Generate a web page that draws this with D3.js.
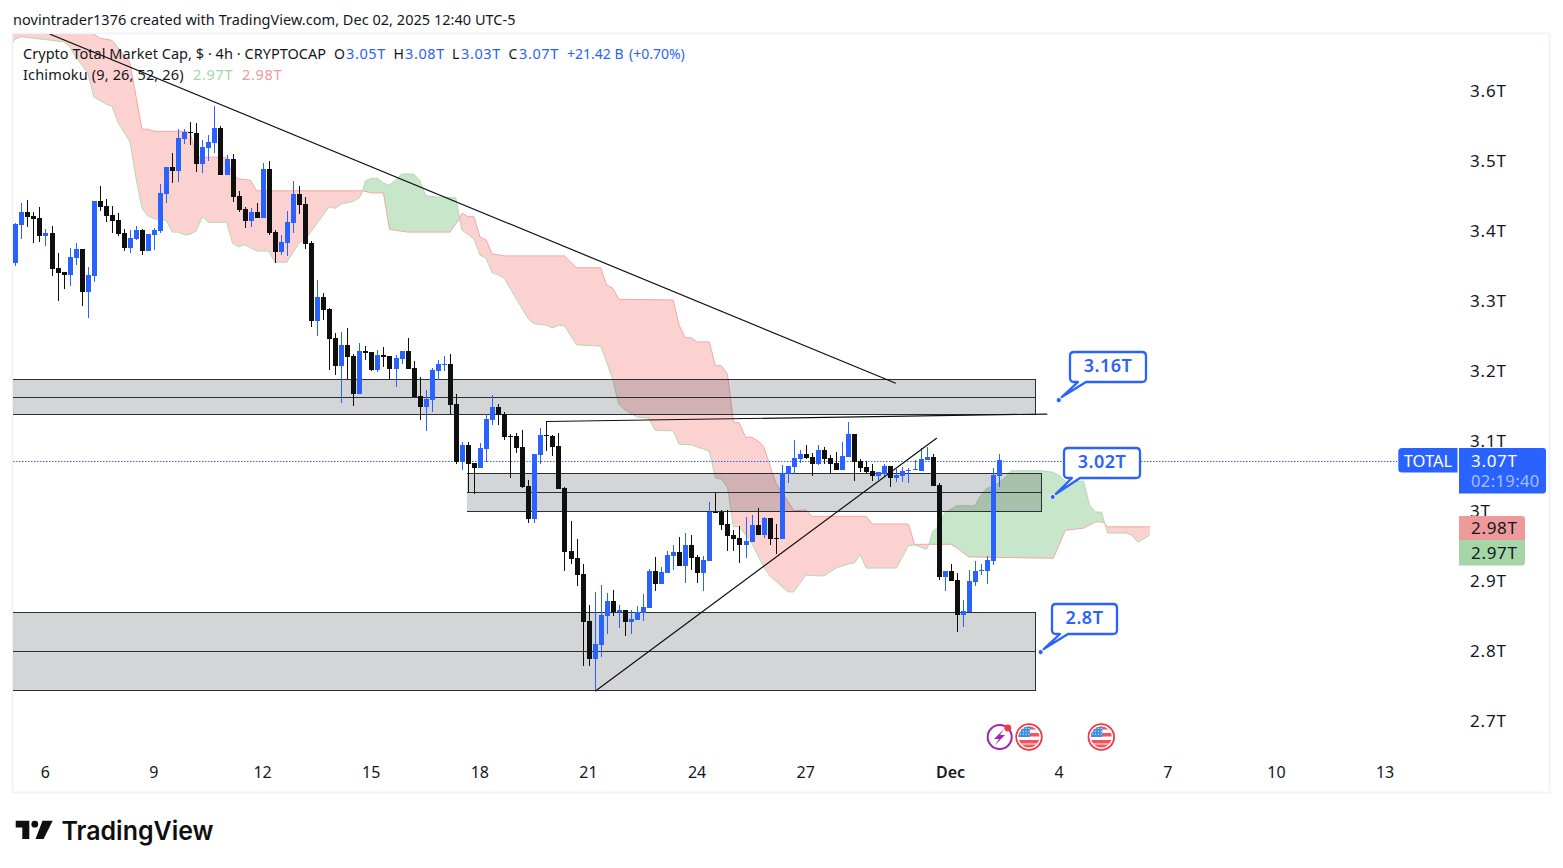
<!DOCTYPE html>
<html><head><meta charset="utf-8"><title>TOTAL</title>
<script src="https://cdn.jsdelivr.net/npm/d3@7"></script>
<style>
html,body{margin:0;padding:0;background:#fff;overflow:hidden}
svg{display:block}
text{font-family:"Noto Sans",sans-serif}
</style></head><body><svg id="c" width="1563" height="868"></svg>
<script>
// ---------- DATA ----------
const opens=[3.353,3.407,3.426,3.420,3.417,3.391,3.396,3.346,3.340,3.336,
3.360,3.373,3.311,3.334,3.441,3.434,3.421,3.414,3.396,3.374,
3.387,3.400,3.370,3.393,3.399,3.451,3.490,3.484,3.530,3.540,
3.539,3.494,3.517,3.524,3.546,3.479,3.501,3.449,3.430,3.413,
3.426,3.417,3.487,3.397,3.369,3.381,3.410,3.451,3.437,3.381,
3.270,3.304,3.287,3.246,3.206,3.236,3.220,3.166,3.227,3.226,
3.200,3.221,3.220,3.201,3.216,3.227,3.203,3.163,3.147,3.157,
3.199,3.207,3.209,3.151,3.069,3.093,3.067,3.060,3.087,3.129,
3.147,3.137,3.106,3.106,3.090,3.034,2.987,3.079,3.107,3.106,
3.091,3.031,2.941,2.931,2.909,2.841,2.787,2.807,2.849,2.870,
2.854,2.857,2.840,2.843,2.853,2.860,2.913,2.894,2.910,2.934,
2.940,2.920,2.950,2.933,2.910,2.927,2.997,2.997,2.980,2.964,
2.960,2.950,2.954,2.979,2.964,2.989,2.960,2.959,3.051,3.061,
3.073,3.080,3.076,3.066,3.086,3.074,3.067,3.057,3.076,3.109,
3.070,3.061,3.056,3.049,3.051,3.063,3.046,3.049,3.056,3.057,
3.056,3.071,3.076,3.036,2.904,2.913,2.900,2.850,2.854,2.897,
2.913,2.913,2.927,3.049];
const highs=[3.410,3.439,3.443,3.426,3.433,3.401,3.406,3.367,3.340,3.374,
3.381,3.373,3.347,3.441,3.463,3.444,3.434,3.424,3.401,3.400,
3.406,3.401,3.394,3.403,3.466,3.490,3.510,3.544,3.544,3.554,
3.553,3.529,3.536,3.577,3.549,3.507,3.509,3.456,3.433,3.431,
3.439,3.496,3.499,3.400,3.393,3.427,3.470,3.463,3.447,3.384,
3.329,3.310,3.289,3.253,3.254,3.260,3.223,3.239,3.234,3.226,
3.229,3.233,3.220,3.221,3.227,3.246,3.213,3.190,3.171,3.203,
3.214,3.220,3.223,3.166,3.097,3.097,3.067,3.096,3.137,3.164,
3.151,3.140,3.109,3.110,3.114,3.043,3.080,3.117,3.127,3.107,
3.110,3.033,2.984,2.959,2.923,2.864,2.883,2.893,2.881,2.886,
2.864,2.857,2.857,2.863,2.880,2.916,2.933,2.919,2.941,2.950,
2.961,2.967,2.964,2.936,2.934,3.011,3.024,3.000,3.000,2.971,
2.977,2.990,2.993,3.003,2.990,2.989,2.980,3.064,3.063,3.100,
3.086,3.093,3.081,3.093,3.090,3.079,3.083,3.097,3.126,3.109,
3.073,3.070,3.066,3.054,3.066,3.063,3.059,3.061,3.060,3.071,
3.089,3.090,3.080,3.039,2.913,2.923,2.910,2.871,2.914,2.927,
2.923,2.934,3.060,3.080];
const lows=[3.349,3.387,3.404,3.381,3.383,3.377,3.334,3.299,3.316,3.320,
3.350,3.291,3.274,3.326,3.427,3.411,3.396,3.391,3.370,3.367,
3.386,3.364,3.370,3.371,3.396,3.439,3.467,3.469,3.523,3.521,
3.483,3.481,3.499,3.510,3.479,3.479,3.440,3.426,3.403,3.404,
3.417,3.417,3.393,3.353,3.364,3.363,3.396,3.423,3.373,3.261,
3.249,3.271,3.200,3.193,3.153,3.187,3.149,3.166,3.214,3.199,
3.197,3.204,3.187,3.176,3.209,3.201,3.161,3.129,3.113,3.140,
3.186,3.199,3.137,3.066,3.057,3.026,3.023,3.060,3.069,3.121,
3.121,3.100,3.046,3.081,3.031,2.981,2.981,3.066,3.084,3.077,
3.030,2.913,2.923,2.891,2.777,2.777,2.741,2.790,2.823,2.849,
2.831,2.820,2.823,2.843,2.841,2.860,2.884,2.894,2.910,2.914,
2.920,2.896,2.914,2.896,2.884,2.927,2.996,2.971,2.941,2.941,
2.924,2.931,2.954,2.964,2.960,2.950,2.937,2.959,3.039,3.051,
3.067,3.073,3.049,3.064,3.066,3.051,3.057,3.057,3.076,3.041,
3.054,3.053,3.041,3.043,3.047,3.033,3.040,3.040,3.039,3.057,
3.056,3.071,3.034,2.900,2.884,2.899,2.826,2.833,2.854,2.891,
2.907,2.894,2.921,3.033];
const closes=[3.409,3.426,3.419,3.416,3.391,3.396,3.344,3.339,3.336,3.361,
3.373,3.311,3.336,3.441,3.433,3.420,3.413,3.394,3.374,3.389,
3.400,3.370,3.394,3.400,3.453,3.490,3.484,3.531,3.540,3.539,
3.494,3.519,3.526,3.546,3.479,3.501,3.447,3.429,3.413,3.426,
3.417,3.487,3.396,3.369,3.383,3.411,3.451,3.436,3.380,3.270,
3.304,3.286,3.244,3.206,3.236,3.219,3.166,3.227,3.224,3.200,
3.221,3.219,3.201,3.217,3.227,3.201,3.161,3.147,3.159,3.200,
3.209,3.209,3.150,3.069,3.093,3.066,3.060,3.089,3.130,3.147,
3.136,3.104,3.104,3.089,3.033,2.987,3.080,3.107,3.106,3.090,
3.030,2.940,2.930,2.907,2.840,2.787,2.809,2.850,2.870,2.854,
2.857,2.840,2.844,2.854,2.861,2.913,2.894,2.911,2.936,2.940,
2.920,2.950,2.931,2.910,2.929,2.997,2.996,2.979,2.963,2.959,
2.950,2.956,2.979,2.964,2.989,2.959,2.959,3.053,3.063,3.074,
3.080,3.074,3.066,3.086,3.073,3.066,3.057,3.077,3.109,3.069,
3.060,3.054,3.049,3.054,3.063,3.046,3.050,3.056,3.057,3.059,
3.073,3.076,3.034,2.904,2.913,2.899,2.850,2.856,2.899,2.913,
2.914,2.929,3.050,3.071];

// Ichimoku leading spans, read at their kinks (bar number, price in T)
const spanABars=[-1,0,1,8,9,10,12,13,15,16,17,19,20,21,22,23,25,26,27,28,29,30,31,32,35,36,37,38,40,42,43,45,47,48,52,53,54,55,56,57,57.6,58,59,60,61,62,63,64,66,67,68,70,73,73.6,74,76,77,78,79,80,81,85,86,88,89,90,91,93,97,98,99,100,101,103,105,106,109,110,112,114,115,116,117,118,119,120,122,124,125,128,129,131,133,134,136,138,139,140,141,146,148,149,151,151.4,152,153,154,156,159,160,161,162,164,165,170,172,173,174,177,178,179,180,180.5,181,184,185,186,188];
const spanA=[3.663,3.673,3.676,3.669,3.662,3.647,3.625,3.590,3.580,3.577,3.554,3.526,3.474,3.431,3.420,3.416,3.414,3.397,3.397,3.393,3.394,3.399,3.419,3.411,3.411,3.381,3.376,3.379,3.370,3.370,3.354,3.354,3.381,3.386,3.433,3.431,3.437,3.439,3.441,3.446,3.456,3.470,3.474,3.474,3.467,3.464,3.471,3.480,3.480,3.471,3.449,3.447,3.446,3.416,3.400,3.387,3.364,3.360,3.339,3.336,3.331,3.273,3.266,3.264,3.260,3.264,3.263,3.236,3.234,3.211,3.186,3.151,3.143,3.133,3.131,3.114,3.113,3.094,3.093,3.087,3.084,3.046,3.044,3.033,2.976,2.976,2.953,2.919,2.906,2.883,2.883,2.907,2.906,2.906,2.917,2.923,2.924,2.936,2.917,2.917,2.949,2.950,2.944,2.951,2.969,2.977,2.996,3.006,3.006,3.021,3.031,3.033,3.046,3.056,3.056,3.054,3.049,3.041,3.041,3.007,2.997,2.997,2.981,2.967,2.967,2.964,2.954,2.964];
const spanBBars=[-1,12,13,14,16,19,20,21,22,23,28,29,30,34,35,36,37,39,40,57,57.6,59,61,62,65,72,73.6,74,75,76,77,78,79,81,91,93,97,98,99,100,109,110,111,112,113,115,116,117,118,119,120,121,122,123,124,126,129,131,132,141,142,148,149,151.4,155,156,158,172,174,177,179,180,180.5,181,188];
const spanB=[3.700,3.686,3.680,3.674,3.671,3.639,3.591,3.544,3.544,3.541,3.541,3.539,3.504,3.504,3.503,3.479,3.473,3.471,3.456,3.456,3.456,3.453,3.453,3.401,3.397,3.397,3.416,3.424,3.419,3.419,3.390,3.386,3.366,3.363,3.363,3.346,3.346,3.321,3.317,3.301,3.300,3.264,3.246,3.246,3.240,3.240,3.206,3.206,3.194,3.126,3.124,3.104,3.104,3.099,3.091,3.039,2.999,3.000,2.991,2.991,2.980,2.980,2.951,2.951,2.951,2.946,2.933,2.931,2.971,2.974,2.983,2.983,2.981,2.976,2.976];
// spans cross at these bars; the cloud colour flips there
const cloudEdges=[-1,57.6,73.6,151.4,180.5,188];
const cloudBullish=[false,true,false,true,false];

// horizontal zones: top, mid and bottom price, first and last bar (-1 = off the left edge)
const zoneTops=[3.1867,3.0524,2.8539];
const zoneMids=[3.1610,3.0253,2.7981];
const zoneBottoms=[3.1367,2.9981,2.7429];
const zoneFrom=[-1,74.8,-1];
const zoneTo=[168.9,169.9,168.9];

// trend lines: from (bar, price) to (bar, price)
const trendFromBar=[5.6,88,96];
const trendFromPrice=[3.680,3.1264,2.741];
const trendToBar=[145.9,171,152.7];
const trendToPrice=[3.181,3.1371,3.103];

// callouts
const calloutLabels=["3.16T","3.02T","2.8T"];
const calloutBars=[172.9,171.9,169.9];
const calloutPrices=[3.157,3.0186,2.797];

const priceTicks=[3.6,3.5,3.4,3.3,3.2,3.1,3.0,2.9,2.8,2.7];
const priceTickLabels=["3.6T","3.5T","3.4T","3.3T","3.2T","3.1T","3T","2.9T","2.8T","2.7T"];
const timeTickBars=[5,23,41,59,77,95,113,131,155,173,191,209,227];
const timeTickLabels=["6","9","12","15","18","21","24","27","Dec","4","7","10","13"];

const lastPrice=3.07, spanTagB="2.98T", spanTagA="2.97T";
const symbolName="TOTAL", countdown="02:19:40";
const legendTitle="Crypto Total Market Cap, $ · 4h · CRYPTOCAP";
const legendLetters=["O","H","L","C"];
const legendValues=["3.05T","3.08T","3.03T","3.07T"];
const legendChange=["+21.42 B","(+0.70%)"];
const headerText="novintrader1376 created with TradingView.com, Dec 02, 2025 12:40 UTC-5";

// ---------- SCALES ----------
const svg=d3.select("#c");
const x=d3.scaleLinear().domain([0,163]).range([15.3,999]);
const y=d3.scaleLinear().domain([2.7,3.6]).range([720,90]);
const BLUE="#2962ff",BLACK="#0f0f0f",DARK="#131722",INK="#2a2e39";
const defs=svg.append("defs");
defs.append("clipPath").attr("id","plot").append("rect").attr("x",13).attr("y",34).attr("width",1384).attr("height",758);

// frame
svg.append("rect").attr("x",12.5).attr("y",33.5).attr("width",1537).attr("height",759).attr("fill","none").attr("stroke","#f0f3fa").attr("stroke-width",2);

const plot=svg.append("g").attr("clip-path","url(#plot)");

// ---------- CLOUD ----------
const A=spanABars.map((b,i)=>[b,spanA[i]]), B=spanBBars.map((b,i)=>[b,spanB[i]]);
const ln=d3.line().x(d=>x(d[0])).y(d=>y(d[1]));
const cloud=plot.append("g");
cloudBullish.forEach((bull,i)=>{
  const lo=cloudEdges[i],hi=cloudEdges[i+1];
  const a=A.filter(d=>d[0]>=lo&&d[0]<=hi), b=B.filter(d=>d[0]>=lo&&d[0]<=hi).reverse();
  cloud.append("path").attr("d",ln(a.concat(b))+"Z").attr("fill",bull?"#c8e6c9":"#fcd2d0");
});
cloud.append("path").attr("d",ln(B)).attr("fill","none").attr("stroke","#f5a6a6").attr("stroke-width",1);
cloud.append("path").attr("d",ln(A)).attr("fill","none").attr("stroke","#b0dab2").attr("stroke-width",1);

// ---------- ZONES ----------
const zones=plot.append("g");
zoneTops.forEach((t,i)=>{
  const x0=Math.round(x(zoneFrom[i]))+(zoneFrom[i]<0?-20:0), x1=Math.round(x(zoneTo[i]));
  const yt=Math.round(y(t)),ym=Math.round(y(zoneMids[i])),yb=Math.round(y(zoneBottoms[i]));
  zones.append("rect").attr("x",x0).attr("y",yt).attr("width",x1-x0).attr("height",yb-yt).attr("fill","rgba(42,46,57,.2)");
  [yt,ym,yb].forEach(v=>zones.append("line").attr("x1",x0).attr("x2",x1).attr("y1",v+.5).attr("y2",v+.5).attr("stroke",INK));
  zones.append("line").attr("x1",x1+.5).attr("x2",x1+.5).attr("y1",yt).attr("y2",yb+1).attr("stroke",INK);
});

// last price line
plot.append("line").attr("x1",13).attr("x2",1398).attr("y1",Math.round(y(lastPrice))+.5).attr("y2",Math.round(y(lastPrice))+.5)
  .attr("stroke",BLUE).attr("stroke-dasharray","1.5 1.5");

// ---------- CANDLES ----------
const candles=opens.map((o,i)=>({i,o,h:highs[i],l:lows[i],c:closes[i]}));
const cg=plot.append("g").selectAll("g").data(candles).join("g");
const col=d=>d.c>=d.o?BLUE:BLACK;
cg.append("rect").attr("x",d=>Math.round(x(d.i))).attr("width",1)
  .attr("y",d=>Math.round(y(d.h))).attr("height",d=>Math.max(1,Math.round(y(d.l))-Math.round(y(d.h))))
  .attr("fill",col);
cg.append("rect").attr("x",d=>Math.round(x(d.i))-2).attr("width",5)
  .attr("y",d=>Math.round(y(Math.max(d.o,d.c))))
  .attr("height",d=>Math.max(1,Math.round(y(Math.min(d.o,d.c)))-Math.round(y(Math.max(d.o,d.c)))))
  .attr("fill",col);

// ---------- TREND LINES ----------
plot.append("g").selectAll("line").data(trendFromBar).join("line")
  .attr("x1",(d,i)=>x(d)+.5).attr("y1",(d,i)=>y(trendFromPrice[i]))
  .attr("x2",(d,i)=>x(trendToBar[i])).attr("y2",(d,i)=>y(trendToPrice[i]))
  .attr("stroke",BLACK).attr("stroke-width",1.2);

// ---------- CALLOUTS ----------
calloutLabels.forEach((lab,i)=>{
  const ax=x(calloutBars[i]),ay=y(calloutPrices[i]);
  const g=svg.append("g");
  const t=g.append("text").attr("x",0).attr("y",0).attr("font-size",18).attr("font-weight",600).attr("fill",BLUE).attr("letter-spacing",.5).text(lab);
  const w=Math.round(t.node().getComputedTextLength())+27,h=30;
  const bx=Math.round(ax+11),by=Math.round(ay-48.5),r=4,b=by+h;
  t.attr("x",bx+w/2).attr("y",by+20).attr("text-anchor","middle");
  g.insert("path","text").attr("d",`M${bx+r},${by}H${bx+w-r}Q${bx+w},${by} ${bx+w},${by+r}V${b-r}Q${bx+w},${b} ${bx+w-r},${b}H${bx+16}L${ax+3},${ay-3}L${bx+8},${b}H${bx+r}Q${bx},${b} ${bx},${b-r}V${by+r}Q${bx},${by} ${bx+r},${by}Z`)
   .attr("fill","#fff").attr("stroke",BLUE).attr("stroke-width",2.3).attr("stroke-linejoin","round");
  g.append("circle").attr("cx",ax).attr("cy",ay).attr("r",2.6).attr("fill",BLUE).attr("stroke","#fff").attr("stroke-width",1);
});

// ---------- AXES ----------
const yAxis=d3.axisRight(y).tickValues(priceTicks).tickSize(0).tickFormat((d,i)=>priceTickLabels[i]);
const yg=svg.append("g").attr("transform","translate(1470,1)").call(yAxis);
yg.select(".domain").remove();
yg.selectAll("text").attr("x",0).attr("dy","0.35em").attr("text-anchor","start").attr("font-size",17).attr("letter-spacing",.8).attr("font-family",'"Noto Sans",sans-serif').attr("fill",DARK);

const xAxis=d3.axisBottom(x).tickValues(timeTickBars).tickSize(0).tickFormat((d,i)=>timeTickLabels[i]);
const xg=svg.append("g").attr("transform","translate(-0.7,772.5)").call(xAxis);
xg.select(".domain").remove();
xg.selectAll("text").attr("y",0).attr("dy","0.35em").attr("font-size",16).attr("font-family",'"Noto Sans",sans-serif').attr("fill",DARK)
  .attr("font-weight",(d,i)=>timeTickLabels[i]==="Dec"?600:400);

// ---------- PRICE TAGS ----------
const tagX=1459;
const tags=svg.append("g");
tags.append("path").attr("d","M1402,448H1457.5V472.5H1402Q1398.3,472.5 1398.3,469V451.5Q1398.3,448 1402,448Z").attr("fill",BLUE);
tags.append("text").attr("x",1428).attr("y",466.5).attr("text-anchor","middle").attr("font-size",16.5).attr("fill","#fff").text(symbolName);
tags.append("path").attr("d",`M${tagX},448H1543Q1546,448 1546,451V490Q1546,493.5 1543,493.5H${tagX}Z`).attr("fill",BLUE);
tags.append("text").attr("x",1471).attr("y",466.5).attr("font-size",17).attr("letter-spacing",.7).attr("fill","#fff").text(d3.format(".2f")(lastPrice)+"T");
tags.append("text").attr("x",1471).attr("y",487).attr("font-size",16.5).attr("letter-spacing",.4).attr("fill","rgba(255,255,255,.6)").text(countdown);
tags.append("path").attr("d",`M${tagX},516H1522Q1525,516 1525,519V540H${tagX}Z`).attr("fill","#ef9a9a");
tags.append("path").attr("d",`M${tagX},540H1525V562Q1525,565.5 1522,565.5H${tagX}Z`).attr("fill","#a5d6a7");
tags.append("text").attr("x",1471).attr("y",534).attr("font-size",17).attr("letter-spacing",.7).attr("fill",DARK).text(spanTagB);
tags.append("text").attr("x",1471).attr("y",559).attr("font-size",17).attr("letter-spacing",.7).attr("fill",DARK).text(spanTagA);

// ---------- LEGEND ----------
svg.append("text").attr("x",13).attr("y",24.5).attr("font-size",14.5).attr("letter-spacing",.03).attr("fill",DARK).text(headerText);
const leg=svg.append("g");
leg.append("text").attr("x",23).attr("y",59).attr("font-size",14.5).attr("letter-spacing",.03).attr("fill",DARK).text(legendTitle);
[334,393.5,452,508.5].forEach((px,i)=>{
  leg.append("text").attr("x",px).attr("y",59).attr("font-size",14).attr("fill",DARK).text(legendLetters[i]);
});
[346,405,461,519].forEach((px,i)=>{
  leg.append("text").attr("x",px).attr("y",59).attr("font-size",14.5).attr("letter-spacing",.6).attr("fill",BLUE).text(legendValues[i]);
});
[567,629].forEach((px,i)=>{
  leg.append("text").attr("x",px).attr("y",59).attr("font-size",14).attr("fill",BLUE).text(legendChange[i]);
});
leg.append("text").attr("x",23).attr("y",80).attr("font-size",14.5).attr("letter-spacing",.15).attr("fill",DARK).text("Ichimoku (9, 26, 52, 26)");
leg.append("text").attr("x",193).attr("y",80).attr("font-size",14.5).attr("letter-spacing",.7).attr("fill","#a5d6a7").text(spanTagA);
leg.append("text").attr("x",242).attr("y",80).attr("font-size",14.5).attr("letter-spacing",.7).attr("fill","#ef9a9a").text(spanTagB);

// ---------- EVENT ICONS ----------
const icons=svg.append("g");
icons.append("circle").attr("cx",999.7).attr("cy",737).attr("r",12).attr("fill","#fff").attr("stroke","#9c27b0").attr("stroke-width",2);
icons.append("path").attr("d","M1004,729L994,739H999L995,745L1005,735H1000Z").attr("fill","#9c27b0");
icons.append("circle").attr("cx",1007.8).attr("cy",728).attr("r",3.4).attr("fill","#f23645");
[1029,1101.3].forEach((cx,k)=>{
  defs.append("clipPath").attr("id","f"+k).append("circle").attr("cx",cx).attr("cy",737).attr("r",10.5);
  const g=icons.append("g");
  g.append("circle").attr("cx",cx).attr("cy",737).attr("r",12.8).attr("fill","#fff").attr("stroke","#f23645").attr("stroke-width",1.8);
  const f=g.append("g").attr("clip-path",`url(#f${k})`);
  f.append("rect").attr("x",cx-11).attr("y",726).attr("width",22).attr("height",3.5).attr("fill","#f7525f");
  f.append("rect").attr("x",cx-11).attr("y",733).attr("width",22).attr("height",3.5).attr("fill","#f7525f");
  f.append("rect").attr("x",cx-11).attr("y",740).attr("width",22).attr("height",3.5).attr("fill","#f7525f");
  f.append("rect").attr("x",cx-11).attr("y",744.5).attr("width",22).attr("height",4).attr("fill","#f7525f");
  f.append("rect").attr("x",cx-11).attr("y",726).attr("width",12).attr("height",11).attr("fill","#3d8ee0");
  for(let a=0;a<3;a++)for(let b=0;b<4;b++) f.append("rect").attr("x",cx-9+b*2.8).attr("y",728+a*2.8).attr("width",1).attr("height",1).attr("fill","#fff");
});

// ---------- LOGO ----------
const logo=svg.append("g").attr("fill","#0f0f0f");
logo.append("path").attr("d","M15.7,820.7H29.3V839H22.3V827.5H15.7Z");
logo.append("circle").attr("cx",34.8).attr("cy",824.2).attr("r",3.4);
logo.append("path").attr("d","M42.5,820.7H52.7L43.6,839H35.5Z");
logo.append("text").attr("x",61.5).attr("y",840).attr("font-size",26).attr("font-weight",600).attr("textLength",152).attr("lengthAdjust","spacingAndGlyphs").attr("style",'font-family:Inter,sans-serif').text("TradingView");
</script></body></html>
